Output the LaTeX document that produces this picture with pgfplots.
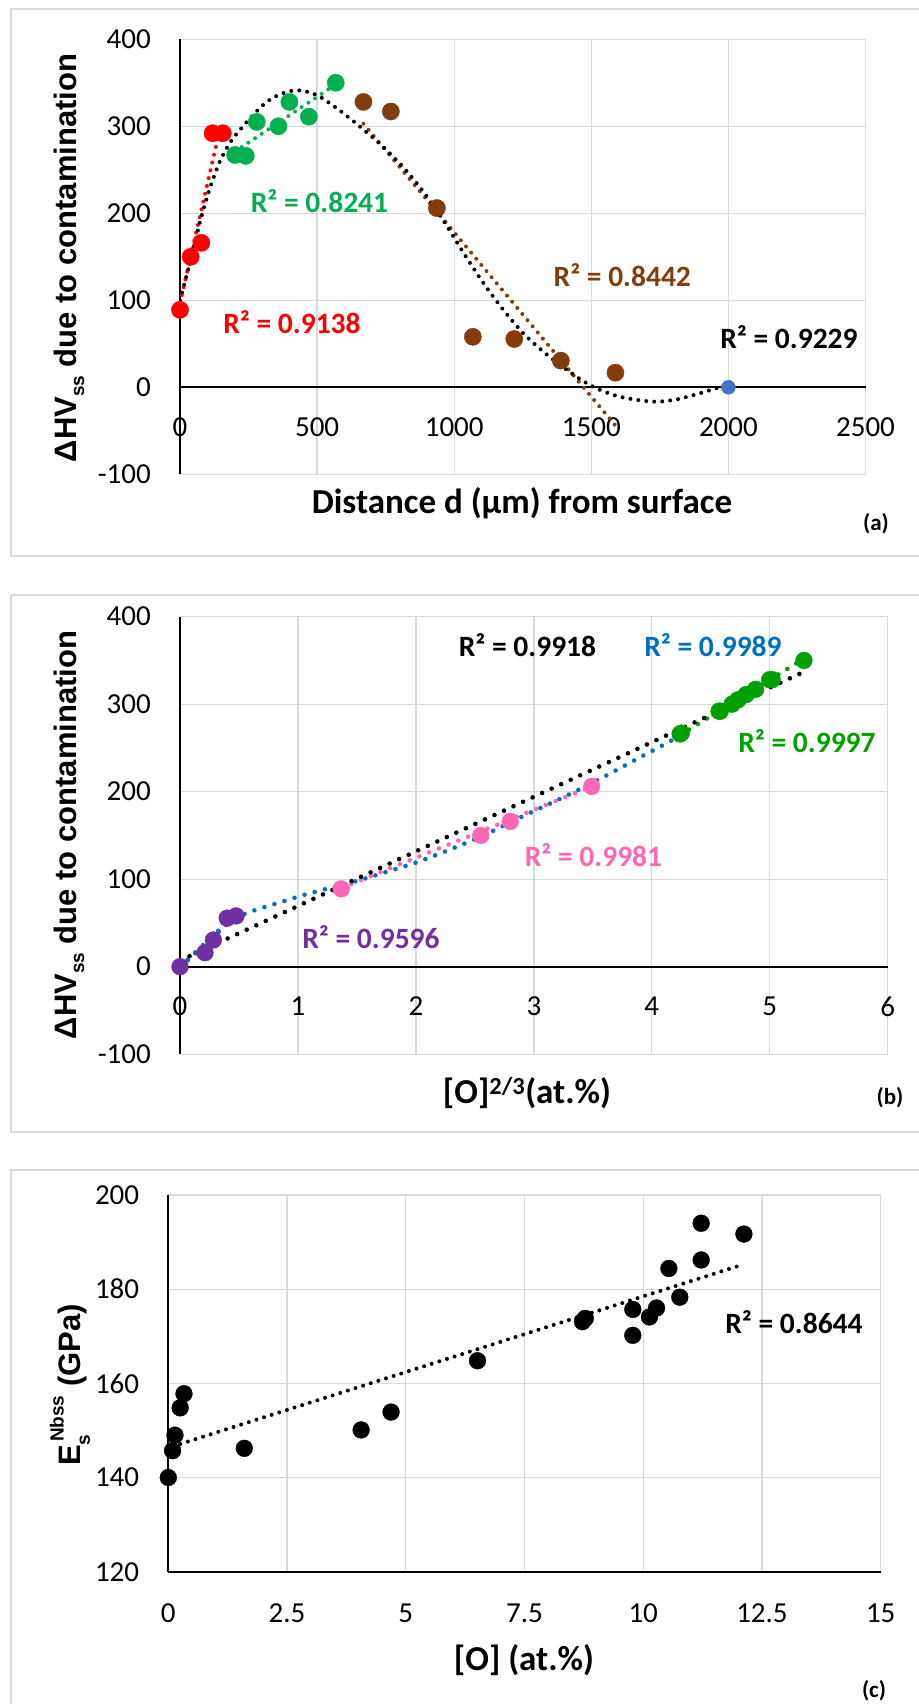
\documentclass[border=0pt]{standalone}
\usepackage{fontspec}
\setmainfont{Carlito}
\newfontfamily\labfont{Liberation Sans}
\usepackage{pgfplots}
\pgfplotsset{compat=1.18}
\definecolor{gridgray}{HTML}{D9D9D9}
\definecolor{xred}{HTML}{FF0000}
\definecolor{xgreen}{HTML}{00B050}
\definecolor{xbrown}{HTML}{843C0C}
\definecolor{xblue}{HTML}{4472C4}
\definecolor{xpurple}{HTML}{7030A0}
\definecolor{xpink}{HTML}{FF66B3}
\definecolor{xblueb}{HTML}{0070C0}
\definecolor{xgreenb}{HTML}{00A000}
\pgfplotsset{
  excel/.style={
    scale only axis,
    axis line style={draw=none},
    grid=major,
    grid style={gridgray, line width=1.3pt},
    major tick length=0pt,
    tick style={draw=none},
    /pgf/number format/assume math mode=true,
    /pgf/number format/1000 sep={},
    ticklabel style={font=\fontsize{29}{30}\selectfont, inner sep=0pt},
    yticklabel style={anchor=east, xshift=-29pt},
    extra x tick labels={}, extra y tick labels={},
    extra x tick style={grid style={black, line width=1.8pt}},
    extra y tick style={grid style={black, line width=1.8pt}},
  },
  tl/.style={line width=4pt, line cap=round, dash pattern=on 0pt off 8pt},
  tlb/.style={line width=4.6pt, line cap=round, dash pattern=on 0pt off 10.5pt},
  mk/.style={only marks, mark=*, mark size=#1, mark options={solid}},
}
\begin{document}
\begin{tikzpicture}[x=1pt,y=1pt]
\useasboundingbox (0,0) rectangle (918,1704);
\fill[white] (0,0) rectangle (918,1704);
\draw[gridgray, line width=1.5pt] (11,1695) rectangle (930,1148);
\draw[gridgray, line width=1.5pt] (11,1109) rectangle (930,572);
\draw[gridgray, line width=1.5pt] (11,534) rectangle (930,-5);

% ---------------- panel (a)
\begin{axis}[excel, at={(180pt,1229.7pt)}, anchor=south west,
  width=685.5pt, height=435pt,
  xmin=0, xmax=2500, ymin=-100, ymax=400,
  xtick={0,500,...,2500}, ytick={-100,0,...,400},
  xticklabel style={anchor=north, yshift=56.3pt},
  extra x ticks={0}, extra y ticks={0}]
\addplot[mk=8.6pt, color=xred] coordinates {(0,89)(39,150)(78,166)(119,292)(156,292)};
\addplot[mk=8.6pt, color=xgreen] coordinates {(201,267)(240,266)(280,305)(359,300)(399,328)(470,311)(568,350)};
\addplot[mk=8.6pt, color=xbrown] coordinates {(669,328)(769,317)(937,206)(1068,58)(1219,55.5)(1389,30.6)(1588,16.8)};
\addplot[mk=7pt, color=xblue] coordinates {(2000,0)};
\addplot[tl, xred] coordinates {(0,97)(145,296)};
\addplot[tl, xgreen] coordinates {(201,271)(568,348)};
\addplot[tl, xbrown] coordinates {(669,303)(1588,-44)};
\addplot[tl, black, smooth] coordinates {(0,100)(36,143)(73,190)(109,229)(146,260)(182,281)(219,296)(261,311)(298,323)(340,333)(395,340)(444,341)(498,336)(553,325)(620,309)(681,293)(742,276)(814,253)(887,225)(960,192)(1033,155)(1106,120)(1179,89)(1252,62)(1325,41)(1398,23)(1471,7)(1532,-3)(1605,-11)(1690,-15.5)(1744,-16.5)(1811,-14)(1884,-8)(1957,-1)(2000,3)};
\end{axis}

% ---------------- panel (b)
\begin{axis}[excel, at={(180pt,649.8pt)}, anchor=south west,
  width=707.7pt, height=437.5pt,
  xmin=0, xmax=6, ymin=-100, ymax=400,
  xtick={0,1,...,6}, ytick={-100,0,...,400},
  xticklabel style={anchor=north, yshift=57.4pt},
  extra x ticks={0}, extra y ticks={0}]
\addplot[mk=8.4pt, color=xpurple] coordinates {(0,0)(0.212,16)(0.283,30.5)(0.40,55.5)(0.475,58)};
\addplot[mk=8.4pt, color=xpink] coordinates {(1.367,89)(2.55,150)(2.80,166)(3.49,206)};
\addplot[mk=8.4pt, color=xgreenb] coordinates {(4.24,266)(4.25,267)(4.57,292)(4.58,292)(4.68,300)(4.73,305)(4.80,311)(4.88,317)(5.00,328)(5.02,328)(5.29,350)};
\addplot[tlb, xpurple] coordinates {(0,-1)(0.475,58)};
\addplot[tlb, xpink] coordinates {(1.37,90)(3.49,206)};
\addplot[tlb, xgreenb] coordinates {(4.24,264.7)(5.29,352)};
\addplot[tlb, xblueb, smooth] coordinates {(0,0)(0.127,16)(0.27,34)(0.42,52)(0.6,63)(0.86,74)(1.05,82)(1.23,88.5)(1.43,95.3)(1.6,102)(1.79,110)(1.98,118)(2.16,127)(2.43,141.7)(2.61,152.4)(2.87,169.6)(3.13,186)(3.39,202.8)(3.65,221)(3.90,239.3)(4.07,251.4)(4.24,264)};
\addplot[tlb, black] coordinates {(0,7)(5.29,337)};
\end{axis}

% ---------------- panel (c)
\begin{axis}[excel, at={(168.3pt,132.3pt)}, anchor=south west,
  width=712.4pt, height=376.7pt,
  xmin=0, xmax=15, ymin=120, ymax=200,
  xtick={0,2.5,5,7.5,10,12.5,15}, ytick={120,140,...,200},
  xticklabel style={anchor=north, yshift=-32pt},
  extra x ticks={0}, extra y ticks={120}]
\addplot[mk=8.4pt, color=black] coordinates {(0,140)(0.09,145.7)(0.14,149)(0.25,154.8)(0.33,157.8)(1.60,146.2)(4.06,150.1)(4.69,153.9)(6.51,164.8)(8.72,173.1)(8.78,173.8)(9.78,175.7)(9.78,170.2)(10.13,174.1)(10.28,176)(10.54,184.4)(10.77,178.3)(11.22,186.2)(11.22,194)(12.12,191.7)};
\addplot[tl, black] coordinates {(0.09,146.6)(12.12,185.3)};
\end{axis}

% ---------------- texts
\begin{scope}[every node/.style={font=\fontsize{29.5}{30}\selectfont\bfseries, inner sep=0pt}]
\node[text=xgreen] at (319.5,1503.3) {R² = 0.8241};
\node[text=xred] at (292,1382) {R² = 0.9138};
\node[text=xbrown] at (622.3,1429) {R² = 0.8442};
\node[text=black] at (789,1367) {R² = 0.9229};
\node[text=black] at (527.5,1059) {R² = 0.9918};
\node[text=xblueb] at (713,1059) {R² = 0.9989};
\node[text=xgreenb] at (807,963.3) {R² = 0.9997};
\node[text=xpink] at (593.5,849) {R² = 0.9981};
\node[text=xpurple] at (371,767.3) {R² = 0.9596};
\node[text=black] at (794,382.3) {R² = 0.8644};
\end{scope}
\begin{scope}[every node/.style={font=\fontsize{35}{36}\selectfont\bfseries, inner sep=0pt}]
\node at (522,1201) {Distance d (μm) from surface};
\node at (527,611) {[O]\textsuperscript{2/3}(at.\%)};
\node at (524,44) {[O] (at.\%)};
\end{scope}
\begin{scope}[every node/.style={font=\fontsize{23}{24}\selectfont\bfseries, inner sep=0pt}]
\node at (876,1180) {(a)};
\node at (890,606) {(b)};
\node at (874,13) {(c)};
\end{scope}
\begin{scope}[every node/.style={font=\labfont\bfseries\fontsize{31}{32}\selectfont, inner sep=0pt, rotate=90}]
\node at (69,1446) {ΔHV\raisebox{-0.25em}{\fontsize{19}{19}\selectfont ss} due to contamination};
\node at (69,869) {ΔHV\raisebox{-0.25em}{\fontsize{19}{19}\selectfont ss} due to contamination};
\node at (70,319) {E\rlap{\raisebox{-0.3em}{\fontsize{19}{19}\selectfont s}}\raisebox{0.55em}{\fontsize{19}{19}\selectfont \,Nbss} (GPa)};
\end{scope}
\end{tikzpicture}
\end{document}
